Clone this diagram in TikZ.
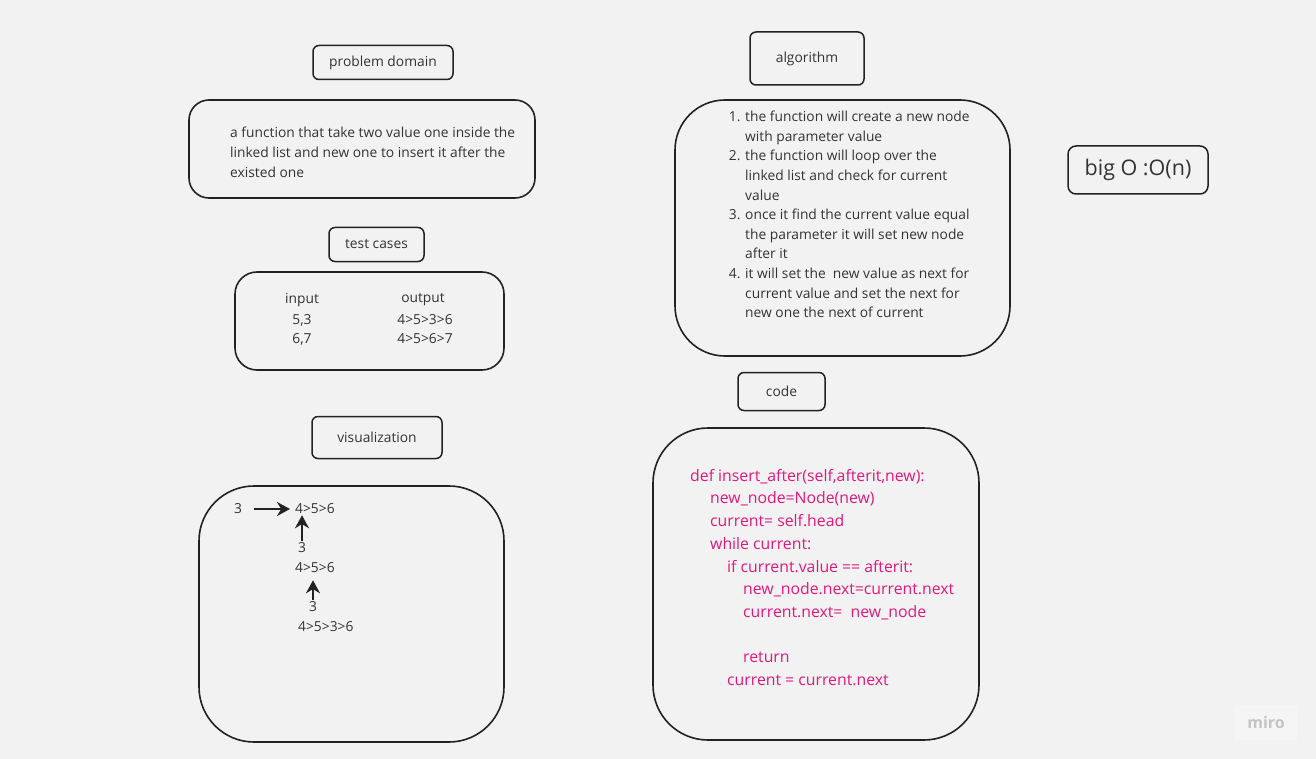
\documentclass[tikz,border=0pt]{standalone}
\usepackage{fontspec}
\setmainfont{Open Sans}
\usetikzlibrary{arrows.meta,positioning}
\definecolor{boardgray}{HTML}{F2F2F2}
\definecolor{inkgray}{HTML}{333333}
\definecolor{edgegray}{HTML}{222222}
\definecolor{codepink}{HTML}{E0197D}
\definecolor{logogray}{HTML}{C4C4C4}
\tikzset{
  txt/.style={text=inkgray, inner sep=0pt, font=\fontsize{13.8}{19.6}\selectfont},
  tagbox/.style={draw=edgegray, line width=1.5pt, rounded corners=6pt, txt},
  panel/.style={draw=edgegray, line width=1.6pt, inner sep=0pt},
  pointer/.style={-{Stealth[length=13pt,width=14pt]}, line width=2.4pt, draw=edgegray}
}
\begin{document}
\begin{tikzpicture}[x=1pt, y=-1pt]
  % board
  \fill[boardgray] (0,0) rectangle (1316,759);
  \useasboundingbox (0,0) rectangle (1316,759);

  % problem domain
  \node[tagbox, minimum width=140pt, minimum height=34pt] (probtag) at (383,62.5) {problem domain};
  \node[panel, rounded corners=20pt, minimum width=346pt, minimum height=98pt] (probbox) at (362,149) {};
  \node[txt, anchor=north west, align=left, font=\fontsize{13.8}{20}\selectfont] (probtext) at (230,127)
    {a function that take two value one inside the\\linked list and new one to insert it after the\\existed one};

  % test cases
  \node[tagbox, minimum width=95pt, minimum height=34pt] (testtag) at (376.5,244.5) {test cases};
  \node[panel, rounded corners=22pt, minimum width=269pt, minimum height=98pt] (testbox) at (369.5,321) {};
  \node[txt] (inhead) at (302,300) {input};
  \node[txt] (outhead) at (423,300) {output};
  \node[txt] (inone) at (302,320) {5,3};
  \node[txt] (intwo) at (302,339) {6,7};
  \node[txt] (outone) at (425,320) {4>5>3>6};
  \node[txt] (outtwo) at (425,339) {4>5>6>7};

  % visualization
  \node[tagbox, minimum width=130pt, minimum height=42pt] (vistag) at (377,437.5) {visualization};
  \node[panel, rounded corners=55pt, minimum width=305pt, minimum height=256pt] (visbox) at (351.5,614) {};
  \node[txt] (vthree) at (238,509) {3};
  \node[txt, anchor=west] (vlist) at (295,509) {4>5>6};
  \node[txt] (vthreeb) at (302,548) {3};
  \node[txt, anchor=west] (vlistb) at (295,568) {4>5>6};
  \node[txt] (vthreec) at (313,607) {3};
  \node[txt, anchor=west] (vlistc) at (298,627) {4>5>3>6};
  \draw[pointer, shorten <=12pt, shorten >=5pt] (vthree.east) -- (vlist.west);
  \draw[pointer, shorten <=2pt, shorten >=1pt] (vthreeb.north) -- (vthreeb.north |- vlist.south);
  \draw[pointer, shorten <=2pt, shorten >=7pt] (vthreec.north) -- (vthreec.north |- vlistb.south);

  % algorithm
  \node[tagbox, minimum width=114pt, minimum height=53pt] (algotag) at (807,58.5) {algorithm};
  \node[panel, rounded corners=50pt, minimum width=335pt, minimum height=256pt] (algobox) at (842.5,228) {};
  \node[txt, anchor=north west, align=left] (algotext) at (745,111)
    {\llap{1. }the function will create a new node\\
     with parameter value\\
     \llap{2. }the function will loop over the\\
     linked list and check for current\\
     value\\
     \llap{3. }once it find the current value equal\\
     the parameter it will set new node\\
     after it\\
     \llap{4. }it will set the\ \ new value as next for\\
     current value and set the next for\\
     new one the next of current};

  % complexity
  \node[tagbox, rounded corners=8pt, minimum width=140pt, minimum height=48pt,
        font=\fontsize{21.5}{24}\selectfont] (bigo) at (1138,170) {big O :O(n)};

  % code
  \node[tagbox, minimum width=87pt, minimum height=38pt] (codetag) at (781.5,391.5) {code};
  \node[panel, rounded corners=55pt, minimum width=326pt, minimum height=312pt] (codebox) at (816,584) {};
  \node[txt, text=codepink, anchor=north west, align=left,
        font=\fontsize{15.8}{22.7}\selectfont] (codetext) at (690,469)
    {def insert\_after(self,afterit,new):\\
     \hspace*{20pt}new\_node=Node(new)\\
     \hspace*{20pt}current= self.head\\
     \hspace*{20pt}while current:\\
     \hspace*{37pt}if current.value == afterit:\\
     \hspace*{53pt}new\_node.next=current.next\\
     \hspace*{53pt}current.next=\ \ new\_node\\
     \mbox{}\\
     \hspace*{53pt}return\\
     \hspace*{37pt}current = current.next};

  % watermark
  \node[fill=black!4, minimum width=62pt, minimum height=35pt, inner sep=0pt,
        text=logogray, font=\fontsize{16}{18}\bfseries] (logo) at (1266,722) {miro};
\end{tikzpicture}
\end{document}
